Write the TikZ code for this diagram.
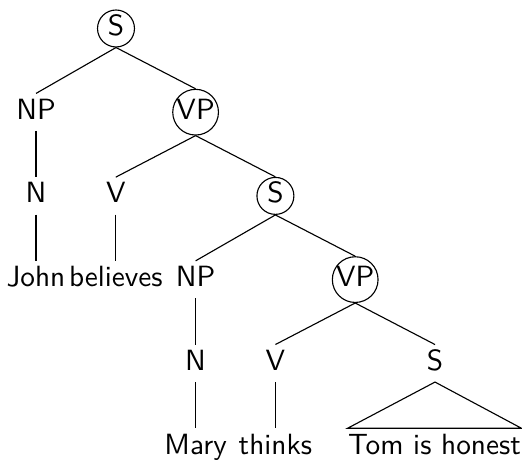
\documentclass[tikz,border=0pt]{standalone}
\begin{document}
\begin{tikzpicture}[x=0.35714pt,y=-0.35714pt,
  every node/.style={font=\sffamily\fontsize{10.45}{12.5}\selectfont, text height=7pt, text depth=2pt, anchor=base},
  lab/.style={inner sep=2pt},
  circ/.style={circle, draw, inner sep=0pt, minimum size=13.2pt},
  leaf/.style={inner ysep=2pt, inner xsep=0pt},
  edge/.style={line width=0.4pt}]
\useasboundingbox (0,0) rectangle (522,460);
% level 0
\node[circ] (s0) at (116,35.5) {S};
% level 1
\node[lab] (np1) at (36,119.2) {NP};
\node[circ] (vp1) at (195.6,119.2) {VP};
% level 2
\node[lab] (n1) at (36,202.9) {N};
\node[lab] (v1) at (115.8,202.9) {V};
\node[circ] (s1) at (275.4,202.9) {S};
% level 3
\node[lab] (john) at (36,286.6) {John};
\node[lab] (believes) at (115.8,286.6) {believes};
\node[lab] (np2) at (195.6,286.6) {NP};
\node[circ] (vp2) at (355.2,286.6) {VP};
% level 4
\node[lab] (n2) at (195.6,370.3) {N};
\node[lab] (v2) at (275.4,370.3) {V};
\node[lab] (s2) at (435,370.3) {S};
% level 5
\node[lab] (mary) at (195.6,454) {Mary};
\node[lab] (thinks) at (275.4,454) {thinks};
\node[leaf] (tom) at (434.5,454) {Tom is honest};
% edges
\draw[edge] (s0.south) -- (np1.north);
\draw[edge] (s0.south) -- (vp1.north);
\draw[edge] (np1.south) -- (n1.north);
\draw[edge] (vp1.south) -- (v1.north);
\draw[edge] (vp1.south) -- (s1.north);
\draw[edge] (n1.south) -- (john.north);
\draw[edge] (v1.south) -- (believes.north);
\draw[edge] (s1.south) -- (np2.north);
\draw[edge] (s1.south) -- (vp2.north);
\draw[edge] (np2.south) -- (n2.north);
\draw[edge] (vp2.south) -- (v2.north);
\draw[edge] (vp2.south) -- (s2.north);
\draw[edge] (n2.south) -- (mary.north);
\draw[edge] (v2.south) -- (thinks.north);
\draw[edge] (s2.south) -- (tom.north west) -- (tom.north east) -- cycle;
\end{tikzpicture}
\end{document}
